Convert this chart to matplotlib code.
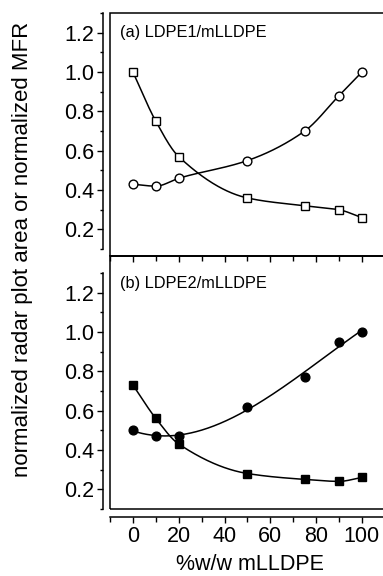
import matplotlib
matplotlib.use("Agg")
import matplotlib.pyplot as plt
from matplotlib.patches import Rectangle
from matplotlib.ticker import MultipleLocator, FormatStrFormatter
import numpy as np

plt.rcParams['font.family'] = ['Liberation Sans', 'DejaVu Sans']

# data
x = [0, 10, 20, 50, 75, 90, 100]
a_square = [1.00, 0.75, 0.57, 0.36, 0.32, 0.30, 0.26]
a_circle = [0.43, 0.42, 0.46, 0.55, 0.70, 0.88, 1.00]
b_square = [0.73, 0.56, 0.43, 0.28, 0.25, 0.24, 0.26]
b_circle = [0.50, 0.47, 0.47, 0.62, 0.77, 0.95, 1.00]


def pchip(xp, yp, xs):
    # monotone cubic hermite through the points
    xp = np.asarray(xp, float)
    yp = np.asarray(yp, float)
    h = np.diff(xp)
    d = np.diff(yp) / h
    m = np.zeros_like(yp)
    for k in range(1, len(xp) - 1):
        if d[k - 1] * d[k] > 0:
            w1 = 2 * h[k] + h[k - 1]
            w2 = h[k] + 2 * h[k - 1]
            m[k] = (w1 + w2) / (w1 / d[k - 1] + w2 / d[k])
    m[0] = d[0]
    m[-1] = d[-1]
    i = np.clip(np.searchsorted(xp, xs) - 1, 0, len(h) - 1)
    t = (xs - xp[i]) / h[i]
    h00 = 2 * t**3 - 3 * t**2 + 1
    h10 = t**3 - 2 * t**2 + t
    h01 = -2 * t**3 + 3 * t**2
    h11 = t**3 - t**2
    return h00 * yp[i] + h10 * h[i] * m[i] + h01 * yp[i + 1] + h11 * h[i] * m[i + 1]


xs = np.linspace(0, 100, 300)

W, H = 383, 576
fig = plt.figure(figsize=(W / 100, H / 100), dpi=100)
ax1 = fig.add_axes([110 / W, 1 - 256 / H, 279.4 / W, 243 / H])
ax2 = fig.add_axes([110 / W, 1 - 509 / H, 279.4 / W, 253 / H])

mk = dict(markersize=6.3, markeredgecolor='black', markeredgewidth=1.0, linestyle='none')

ax1.plot(xs, pchip(x, a_square, xs), color='black', lw=1.1)
ax1.plot(xs, pchip(x, a_circle, xs), color='black', lw=1.1)
ax1.plot(x, a_square, marker='s', markerfacecolor='white', **mk)
ax1.plot(x, a_circle, marker='o', markerfacecolor='white', **mk)

ax2.plot(xs, pchip(x, b_square, xs), color='black', lw=1.1)
ax2.plot(xs, np.polyval(np.polyfit(x, b_circle, 3), xs), color='black', lw=1.1)
ax2.plot(x, b_square, marker='s', markerfacecolor='black', **mk)
ax2.plot(x, b_circle, marker='o', markerfacecolor='black', **mk)

ax1.set_ylim(0.065, 1.30)
ax2.set_ylim(0.0995, 1.386)

for ax in (ax1, ax2):
    ax.set_xlim(-10, 112)
    ax.patch.set_visible(False)
    ax.add_patch(Rectangle((0, 0), 1, 1, transform=ax.transAxes, fill=False,
                           lw=1.1, edgecolor='black', clip_on=False))
    ax.spines['top'].set_visible(False)
    ax.spines['right'].set_visible(False)
    ax.spines['left'].set_position(('outward', 5))
    ax.spines['left'].set_bounds(0.1, 1.3)
    ax.spines['left'].set_linewidth(1.1)
    ax.spines['bottom'].set_linewidth(1.1)
    ax.yaxis.set_major_locator(MultipleLocator(0.2))
    ax.yaxis.set_minor_locator(MultipleLocator(0.1))
    ax.yaxis.set_major_formatter(FormatStrFormatter('%.1f'))
    ax.xaxis.set_major_locator(MultipleLocator(20))
    ax.xaxis.set_minor_locator(MultipleLocator(10))
    ax.tick_params(axis='both', which='major', direction='out', length=4.5, width=1.0,
                   labelsize=15.5, pad=2)
    ax.tick_params(axis='both', which='minor', direction='out', length=2.5, width=1.0)
    ax.tick_params(axis='x', which='minor', length=3.5)

ax1.tick_params(axis='x', which='both', labelbottom=False)
ax2.spines['bottom'].set_position(('outward', 6))
ax2.spines['bottom'].set_bounds(-10, 112)

ax1.text(0.036, 0.92, '(a) LDPE1/mLLDPE', transform=ax1.transAxes, fontsize=11.8,
         ha='left', va='center')
ax2.text(0.036, 0.893, '(b) LDPE2/mLLDPE', transform=ax2.transAxes, fontsize=11.8,
         ha='left', va='center')

fig.text(23 / W, 1 - 249 / H, 'normalized radar plot area or normalized MFR',
         rotation=90, ha='center', va='center', fontsize=16)
fig.text(250 / W, 1 - 565 / H, '%w/w mLLDPE', ha='center', va='center', fontsize=15.5)

fig.savefig('out.png', dpi=100)
